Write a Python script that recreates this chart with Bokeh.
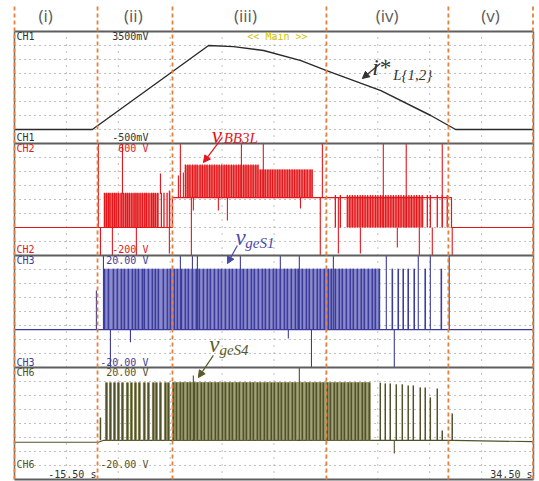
from bokeh.plotting import figure
from bokeh.models import Range1d, Arrow, NormalHead
from bokeh.core.properties import value
from bokeh.embed import file_html
from bokeh.resources import INLINE

# ---------------- screen settings ----------------
T_START, T_END = -15.5, 34.5                      # time window (s), 5 s/div
ch_names = ["CH1", "CH2", "CH3", "CH6"]
ch_lo = [-500, -200, -20, -20]                    # panel bottom value
ch_hi = [3500, 600, 20, 20]                       # panel top value
ch_top_label = ["3500mV", "600 V", "20.00 V", "20.00 V"]
ch_bot_label = ["-500mV", "-200 V", "-20.00 V", "-20.00 V"]
ch_color = ["#333333", "#e3161b", "#3c3c9c", "#52522a"]
ch_fill = ["#333333", "#f07272", "#8a8acc", "#a2a278"]
time_labels = ["-15.50 s", "34.50 s"]
grid_t = [-10.5, -5.5, -0.5, 4.5, 9.5, 14.5, 19.5, 24.5, 29.5]

phase_labels = ["(i)", "(ii)", "(iii)", "(iv)", "(v)"]
phase_label_t = [-12.5, -4.05, 6.75, 20.4, 30.35]
phase_bounds_t = [-15.5, -7.5, -0.28, 14.55, 26.3, 34.45]

# ---------------- CH1 : current reference i*L{1,2} (mV) ----------------
ch1_t = [-15.5, -8.0, 3.2, 5.6, 8.5, 12.1, 14.5, 19.8, 24.6, 27.0, 34.5]
ch1_v = [0, 0, 3000, 2960, 2820, 2460, 2110, 1390, 500, 0, 0]

# ---------------- CH2 : v_BB3L (V) ----------------
ch2_base_t = [-15.5, -0.29, -0.29, 26.6, 26.6, 34.5]
ch2_base_v = [0, 0, 214, 214, 0, 0]
ch2_blk_t0 = [-6.84, 0.96, 8.0, 16.56]
ch2_blk_t1 = [-1.6, 8.0, 13.2, 23.9]
ch2_blk_lo = [0, 214, 214, 0]
ch2_blk_hi = [245, 445, 415, 222]
ch2_ii_t = [-6.84, -6.64, -6.45, -6.30, -6.07, -5.87, -5.70, -5.49, -5.22, -5.02,
            -4.80, -4.62, -4.43, -4.20, -3.98, -3.80, -3.62, -3.40, -3.18, -2.95,
            -2.79, -2.55, -2.30, -2.12, -1.93, -1.70, -1.35, -1.10, -0.80, -0.55]
ch2_ii_lo, ch2_ii_hi = 0, 248
ch2_iiia_t = [0.96, 1.20, 1.40, 1.66, 1.90, 2.10, 2.38, 2.60, 2.84, 3.05, 3.30, 3.52,
              3.76, 4.00, 4.22, 4.46, 4.70, 4.92, 5.15, 5.40, 5.62, 5.86, 6.10, 6.32,
              6.58, 6.80, 7.02, 7.28, 7.50, 7.74, 7.96]
ch2_iiia_lo, ch2_iiia_hi = 214, 450
ch2_iiib_t = [8.20, 8.44, 8.66, 8.90, 9.14, 9.36, 9.60, 9.84, 10.06, 10.30, 10.55,
              10.78, 11.00, 11.25, 11.48, 11.72, 11.95, 12.20, 12.45, 12.70, 12.98, 13.18]
ch2_iiib_lo, ch2_iiib_hi = 214, 415
ch2_iv_t = [15.41, 15.89, 16.56, 16.80, 17.05, 17.30, 17.55, 17.80, 18.04, 18.28, 18.52,
            18.78, 19.02, 19.28, 19.50, 19.76, 20.00, 20.26, 20.50, 20.76, 21.00, 21.25,
            21.50, 21.74, 22.00, 22.25, 22.50, 22.74, 23.00, 23.24, 23.50, 23.78, 24.27,
            24.56, 25.23, 25.71, 26.19]
ch2_iv_lo, ch2_iv_hi = 0, 232
ch2_spike_t = [-7.42, -7.22, -6.07, -5.10, -3.76, -1.44, -0.58, 0.29, 0.48, 0.77, 1.54,
               1.73, 4.14, 5.01, 6.36, 8.47, 12.05, 13.96, 14.16, 15.70, 17.82, 20.03,
               21.38, 22.24, 23.50, 24.75, 25.71, 26.67]
ch2_spike_lo = [0, -200, -200, 240, -200, 240, -186, 214, 214, 214, -200,
                121, 121, 50, 214, 214, 135, -200, 214, -186, -186, 0,
                -143, 0, -200, -200, 0, -200]
ch2_spike_hi = [600, 0, 0, 600, 0, 386, 264, 371, 600, 393, 214,
                214, 214, 214, 600, 600, 214, 214, 600, 214, 0, 600,
                0, 600, 0, 0, 600, 0]

# ---------------- CH3 : v_geS1 (V) ----------------
ch3_base_t = [-15.5, 34.5]
ch3_base_v = [-6.5, -6.5]
ch3_blk_t0 = [-6.84]
ch3_blk_t1 = [19.74]
ch3_blk_lo = [-6.5]
ch3_blk_hi = [15.3]
ch3_pulse_t = [-6.84, -6.45, -5.97, -5.59, -5.20, -4.91, -4.53, -4.14, -3.85, -3.56,
               -3.18, -2.99, -2.60, -2.22, -1.93, -1.64, -1.16, -0.77, -0.48,
               -0.10, 0.19, 0.58, 0.96, 1.25, 1.64, 2.02, 2.31, 2.70, 3.08, 3.37, 3.76,
               4.14, 4.43, 4.82, 5.20, 5.49, 5.88, 6.26, 6.55, 6.93, 7.32, 7.61, 7.99,
               8.38, 8.67, 9.05, 9.44, 9.73, 10.11, 10.50, 10.79, 11.17, 11.56, 11.84,
               12.23, 12.62, 12.90, 13.29, 13.67, 13.96, 14.35, 14.73, 15.02, 15.41,
               15.79, 16.08, 16.47, 16.85, 17.14, 17.53, 17.91, 18.20, 18.59, 18.97,
               19.26, 19.64, 20.90, 21.47, 21.95, 22.43, 23.01, 24.07, 25.62]
ch3_pulse_lo, ch3_pulse_hi = -6.5, 15.3
ch3_spike_t = [-7.61, -6.93, -6.26, -4.33, 0.48, 1.64, 2.12, 6.26, 10.11, 10.88, 11.94,
               13.11, 15.22, 20.32, 21.09, 23.40, 24.56, 26.38]
ch3_spike_lo = [-6.5, -6.5, -20, -11, -6.5, -6.5, -6.5, -6.5, -6.5, -9.6, -6.5,
                -20, -6.5, -6.5, -20, -6.5, -6.5, -6.5]
ch3_spike_hi = [7.5, 20, -6.5, -6.5, 20, 20, 20, 20, 20, -6.5, 20,
                -6.5, 20, 20, -6.5, 20, 20, 20]

# ---------------- CH6 : v_geS4 (V) ----------------
ch6_base_t = [-15.5, -7.42, -6.9, 26.7, 34.5]
ch6_base_v = [-6.7, -6.7, -6.0, -6.0, -6.5]
ch6_blk_t0 = [-0.29]
ch6_blk_t1 = [18.78]
ch6_blk_lo = [-6.0]
ch6_blk_hi = [14.8]
ch6_pulse_t = [-6.64, -6.26, -5.87, -5.49, -5.10, -4.62, -4.24, -3.85, -3.47, -2.99,
               -2.60, -2.12, -1.83, -1.44, -0.96, -0.67,
               -0.19, 0.10, 0.48, 0.77, 1.16, 1.44, 1.83, 2.12, 2.50, 2.79, 3.18, 3.47,
               3.85, 4.14, 4.53, 4.82, 5.20, 5.49, 5.88, 6.16, 6.55, 6.84, 7.22, 7.51,
               7.90, 8.19, 8.57, 8.86, 9.24, 9.53, 9.92, 10.21, 10.59, 10.88, 11.27,
               11.56, 12.23, 12.62, 12.90, 13.29, 13.58, 13.96, 14.25, 14.64, 14.93,
               15.31, 15.60, 15.99, 16.28, 16.66, 16.95, 17.33, 17.62, 18.01, 18.30, 18.68]
ch6_pulse_lo, ch6_pulse_hi = -6.0, 14.6
ch6_tail_t = [-7.22, 19.74, 20.22, 20.70, 21.28, 21.86, 22.43, 22.92, 23.59, 24.07,
              24.56, 25.23, 25.71, 26.67]
ch6_tail_hi = [2.1, 14.6, 14.3, 14.3, 14.0, 14.0, 13.6, 13.6, 12.9, 12.9,
               9.3, 12.5, -2.5, 3.6]
ch6_spike_t = [1.73, 11.94, 21.09]
ch6_spike_lo = [-6.0, -6.0, -10.7]
ch6_spike_hi = [17.1, 20.0, -6.0]

# ---------------- figure / scales ----------------
W, H = 539, 481
PX_PER_S = 10.38            # 519 px for 50 s
FRAME_L, FRAME_R = 14, 533  # frame edges (px)
PX_PER_DIV = 14.0
FRAME_TOP, FRAME_BOT = 31, 479
Y0 = -(H - FRAME_BOT) / PX_PER_DIV
Y1 = 32 + FRAME_TOP / PX_PER_DIV

p = figure(width=W, height=H, output_backend="svg", toolbar_location=None,
           x_range=Range1d(T_START - FRAME_L / PX_PER_S, T_END + (W - FRAME_R) / PX_PER_S),
           y_range=Range1d(Y0, Y1), min_border=0, x_axis_location=None,
           y_axis_location=None, outline_line_color=None, background_fill_color="white",
           border_fill_color="white")
p.grid.visible = False

rng_names = ["ch1", "ch2", "ch3", "ch6"]
for i, nm in enumerate(rng_names):
    base = 24 - 8 * i
    u = (ch_hi[i] - ch_lo[i]) / 8.0
    p.extra_y_ranges[nm] = Range1d(ch_lo[i] - (base - Y0) * u, ch_lo[i] + (Y1 - base) * u)

# grid (dotted)
hy = [k for k in range(1, 32) if k % 8]
p.segment(x0=[T_START] * len(hy), x1=[T_END] * len(hy), y0=hy, y1=hy,
          line_color="#808080", line_width=1, line_dash="1 4")
p.segment(x0=grid_t, x1=grid_t, y0=[0] * len(grid_t), y1=[32] * len(grid_t),
          line_color="#808080", line_width=1, line_dash="1 6")


def seg(ts, lo, hi, rng, color, width, alpha=1.0):
    n = len(ts)
    los = lo if isinstance(lo, list) else [lo] * n
    his = hi if isinstance(hi, list) else [hi] * n
    p.segment(x0=ts, x1=ts, y0=los, y1=his, y_range_name=rng,
              line_color=color, line_width=width, line_alpha=alpha)


# CH2
p.quad(left=ch2_blk_t0, right=ch2_blk_t1, bottom=ch2_blk_lo, top=ch2_blk_hi,
       y_range_name="ch2", fill_color=ch_fill[1], line_color=None)
p.line(ch2_base_t, ch2_base_v, y_range_name="ch2", line_color=ch_color[1], line_width=1.2)
seg(ch2_ii_t, ch2_ii_lo, ch2_ii_hi, "ch2", ch_color[1], 1.3)
seg(ch2_iiia_t, ch2_iiia_lo, ch2_iiia_hi, "ch2", ch_color[1], 1.3)
seg(ch2_iiib_t, ch2_iiib_lo, ch2_iiib_hi, "ch2", ch_color[1], 1.3)
seg(ch2_iv_t, ch2_iv_lo, ch2_iv_hi, "ch2", ch_color[1], 1.3)
seg(ch2_spike_t, ch2_spike_lo, ch2_spike_hi, "ch2", ch_color[1], 1.1)

# CH3
p.quad(left=ch3_blk_t0, right=ch3_blk_t1, bottom=ch3_blk_lo, top=ch3_blk_hi,
       y_range_name="ch3", fill_color=ch_fill[2], line_color=None)
p.line(ch3_base_t, ch3_base_v, y_range_name="ch3", line_color=ch_color[2], line_width=1.2)
seg(ch3_pulse_t, ch3_pulse_lo, ch3_pulse_hi, "ch3", ch_color[2], 1.6)
seg(ch3_spike_t, ch3_spike_lo, ch3_spike_hi, "ch3", ch_color[2], 1.1)

# CH6
p.quad(left=ch6_blk_t0, right=ch6_blk_t1, bottom=ch6_blk_lo, top=ch6_blk_hi,
       y_range_name="ch6", fill_color=ch_fill[3], line_color=None)
p.line(ch6_base_t, ch6_base_v, y_range_name="ch6", line_color=ch_color[3], line_width=1.2)
seg(ch6_pulse_t, ch6_pulse_lo, ch6_pulse_hi, "ch6", ch_fill[3], 3.0)
seg(ch6_pulse_t, ch6_pulse_lo, ch6_pulse_hi, "ch6", ch_color[3], 1.7)
seg(ch6_tail_t, ch6_pulse_lo, ch6_tail_hi, "ch6", ch_color[3], 1.5)
seg(ch6_spike_t, ch6_spike_lo, ch6_spike_hi, "ch6", ch_color[3], 1.1)

# CH1
p.line(ch1_t, ch1_v, y_range_name="ch1", line_color="#2a2a2a", line_width=1.4)

# frame and panel separators
sep = [0, 8, 16, 24, 32]
p.segment(x0=[T_START] * 5, x1=[T_END] * 5, y0=sep, y1=sep, line_color="#5e5e5e", line_width=2)
p.segment(x0=[T_START, T_END], x1=[T_START, T_END], y0=[0, 0], y1=[32, 32],
          line_color="#6e6e6e", line_width=1.5)

# phase boundaries
p.segment(x0=phase_bounds_t, x1=phase_bounds_t, y0=[0] * 6, y1=[33.9] * 6,
          line_color="#e6803a", line_width=1.8, line_dash="4 3")


def txt(x, y, s, rng, color, size, align="left", baseline="middle", xo=0, yo=0,
        font="DejaVu Sans Mono", style="normal"):
    p.text(x=[x], y=[y], text=[s], y_range_name=rng, text_color=color,
           text_font=value(font), text_font_size=size, text_align=align,
           text_baseline=baseline, x_offset=xo, y_offset=yo, text_font_style=style)


# scope channel labels
bot_off = [-6, -6, -5, -15]
for i, nm in enumerate(rng_names):
    c = ch_color[i]
    txt(T_START, ch_hi[i], ch_names[i], nm, c, "10px", xo=2, yo=5)
    txt(-2.6, ch_hi[i], ch_top_label[i], nm, c, "10px", align="right", yo=5)
    txt(T_START, ch_lo[i], ch_names[i], nm, c, "10px", xo=2, yo=bot_off[i])
    txt(-2.6, ch_lo[i], ch_bot_label[i], nm, c, "10px", align="right", yo=bot_off[i])
txt(6.93, ch_hi[0], "<< Main >>", "ch1", "#d2c200", "10px", yo=5)
txt(-7.61, ch_lo[3], time_labels[0], "ch6", "#333333", "10px", align="right", yo=-5)
txt(34.4, ch_lo[3], time_labels[1], "ch6", "#333333", "10px", align="right", yo=-5)

# phase labels
for s, t in zip(phase_labels, phase_label_t):
    txt(t, 33.15, s, "default", "#5a5a5a", "17px", align="center", font="Open Sans")

# annotations
SER = "Liberation Serif"
txt(18.97, 2210, "i*", "ch1", "#333333", "23px", baseline="alphabetic", font=SER, style="italic")
txt(20.99, 1930, "L{1,2}", "ch1", "#333333", "15px", baseline="alphabetic", font=SER, style="italic")
txt(3.5, 660, "v", "ch2", "#e3161b", "23px", baseline="alphabetic", font=SER, style="italic")
txt(4.65, 640, "BB3L", "ch2", "#e3161b", "15px", baseline="alphabetic", font=SER, style="italic")
txt(5.78, 26.4, "v", "ch3", "#4a4aa8", "23px", baseline="alphabetic", font=SER, style="italic")
txt(6.74, 24.6, "geS1", "ch3", "#4a4aa8", "15px", baseline="alphabetic", font=SER, style="italic")
txt(3.27, 28.2, "v", "ch6", "#5a5a2c", "23px", baseline="alphabetic", font=SER, style="italic")
txt(4.24, 26.4, "geS4", "ch6", "#5a5a2c", "15px", baseline="alphabetic", font=SER, style="italic")

arrows = [("ch1", 19.74, 2357, 18.01, 1821, "#333333"),
          ("ch2", 4.53, 643, 2.70, 464, "#e3161b"),
          ("ch3", 5.97, 23.6, 5.01, 17.1, "#4a4aa8"),
          ("ch6", 3.66, 24.3, 2.21, 16.4, "#5a5a2c")]
for rng, xs, ys, xe, ye, c in arrows:
    p.add_layout(Arrow(end=NormalHead(size=7, fill_color=c, line_color=c),
                       x_start=xs, y_start=ys, x_end=xe, y_end=ye, y_range_name=rng,
                       line_color=c, line_width=1.2))

open("out.html", "w").write(file_html(p, INLINE))
